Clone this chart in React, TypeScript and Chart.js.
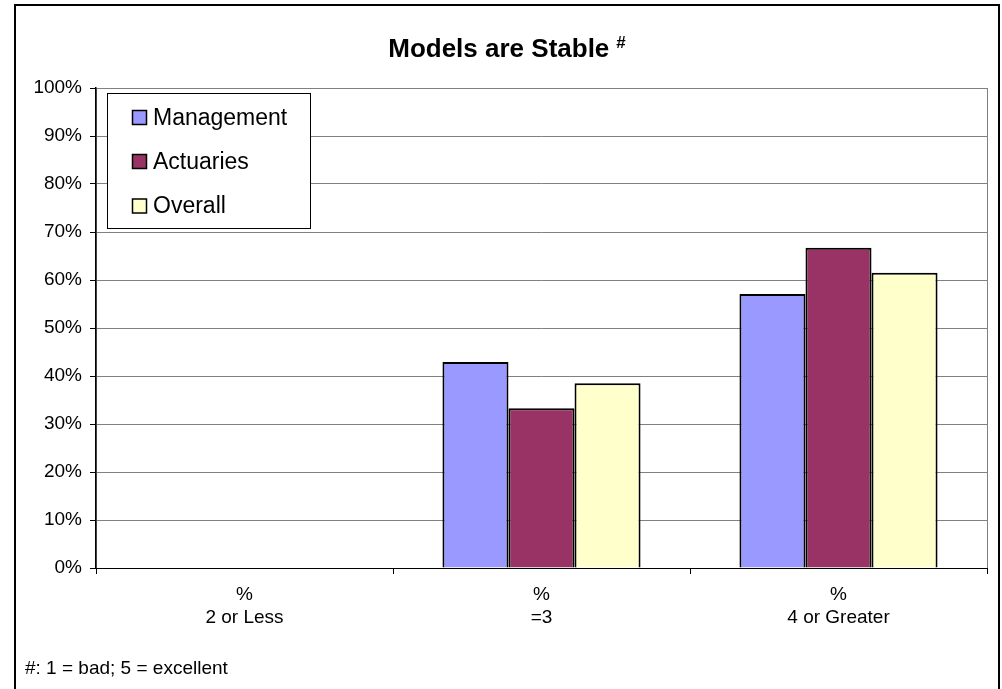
import React, { useEffect, useRef } from "react";
import { Chart, registerables } from "chart.js";

Chart.register(...registerables);

const categories: string[][] = [["%", "2 or Less"], ["%", "=3"], ["%", "4 or Greater"]];
const seriesNames = ["Management", "Actuaries", "Overall"];
const management = [0, 42.9, 57.1];
const actuaries = [0, 33.3, 66.7];
const overall = [0, 38.5, 61.5];
const seriesColors = ["#9999FF", "#993366", "#FFFFCC"];
const yTicks = [0, 10, 20, 30, 40, 50, 60, 70, 80, 90, 100];
const titleText = "Models are Stable";
const titleMark = "#";
const footnote = "#: 1 = bad; 5 = excellent";

const FONT = "Arial, 'Liberation Sans', sans-serif";

const decorPlugin = {
  id: "decor",
  beforeDraw(chart: any) {
    const { ctx, chartArea } = chart;
    ctx.save();
    ctx.fillStyle = "#fff";
    ctx.fillRect(0, 0, chart.width, chart.height);
    ctx.strokeStyle = "#808080";
    ctx.lineWidth = 1;
    ctx.strokeRect(chartArea.left + 0.5, chartArea.top + 0.5, chartArea.right - chartArea.left, chartArea.bottom - chartArea.top);
    ctx.restore();
  },
  afterDraw(chart: any) {
    const { ctx } = chart;
    ctx.save();
    // outer frame
    ctx.strokeStyle = "#000";
    ctx.lineWidth = 2;
    ctx.beginPath();
    ctx.moveTo(15, 700);
    ctx.lineTo(15, 5);
    ctx.lineTo(999, 5);
    ctx.lineTo(999, 700);
    ctx.stroke();

    // title
    ctx.fillStyle = "#000";
    ctx.textBaseline = "alphabetic";
    ctx.textAlign = "left";
    ctx.font = `bold 26px ${FONT}`;
    const tw = ctx.measureText(titleText).width;
    ctx.font = `bold 17px ${FONT}`;
    const mw = ctx.measureText(titleMark).width;
    const total = tw + 7 + mw;
    const startX = 507 - total / 2;
    ctx.font = `bold 26px ${FONT}`;
    ctx.fillText(titleText, startX, 57);
    ctx.font = `bold 17px ${FONT}`;
    ctx.fillText(titleMark, startX + tw + 7, 48);

    // legend
    const lx = 107, ly = 93, lw = 203, lh = 135;
    ctx.fillStyle = "#fff";
    ctx.fillRect(lx, ly, lw, lh);
    ctx.strokeStyle = "#000";
    ctx.lineWidth = 1;
    ctx.strokeRect(lx + 0.5, ly + 0.5, lw, lh);
    const rows = [117.5, 161.5, 206];
    chart.data.datasets.forEach((ds: any, i: number) => {
      const y = rows[i];
      ctx.fillStyle = ds.backgroundColor;
      ctx.fillRect(132, y - 7.5, 15, 15);
      ctx.strokeStyle = "#000";
      ctx.lineWidth = 1.5;
      ctx.strokeRect(132.5, y - 7, 14, 14);
      ctx.fillStyle = "#000";
      ctx.font = `23px ${FONT}`;
      ctx.textBaseline = "middle";
      ctx.fillText(ds.label, 153, y + 1);
    });

    // footnote
    ctx.font = `19px ${FONT}`;
    ctx.textBaseline = "middle";
    ctx.textAlign = "left";
    ctx.fillStyle = "#000";
    ctx.fillText(footnote, 25, 669);
    ctx.restore();
  },
};

export default function App() {
  const ref = useRef<HTMLCanvasElement | null>(null);
  useEffect(() => {
    if (!ref.current) return;
    const values = [management, actuaries, overall];
    const chart = new Chart(ref.current, {
      type: "bar",
      data: {
        labels: categories,
        datasets: seriesNames.map((name, i) => ({
          label: name,
          data: values[i],
          backgroundColor: seriesColors[i],
          borderColor: "#000",
          borderWidth: 2,
          categoryPercentage: 0.667,
          barPercentage: 1,
        })),
      },
      options: {
        animation: false,
        responsive: false,
        devicePixelRatio: 1,
        layout: { padding: { top: 88, right: 15, left: 0, bottom: 0 } },
        plugins: { legend: { display: false }, title: { display: false }, tooltip: { enabled: false } },
        scales: {
          x: {
            grid: { offset: true, drawOnChartArea: false, drawTicks: true, tickLength: 6, color: "#000", tickColor: "#000" },
            border: { color: "#000", width: 1 },
            ticks: { color: "#000", font: { family: FONT, size: 19, lineHeight: 1.22 }, padding: 9, maxRotation: 0, autoSkip: false },
            afterFit(axis: any) { axis.height = 121; },
          },
          y: {
            min: 0,
            max: 100,
            afterBuildTicks(axis: any) { axis.ticks = yTicks.map((v) => ({ value: v })); },
            grid: { color: "#808080", tickColor: "#000", tickLength: 6, lineWidth: 1 },
            border: { color: "#000", width: 1.5 },
            ticks: { color: "#000", font: { family: FONT, size: 19 }, padding: 8, callback: (v: any) => `${v}%` },
            afterFit(axis: any) { axis.width = 96; },
          },
        },
      },
      plugins: [decorPlugin],
    });
    return () => chart.destroy();
  }, []);
  return (
    <div style={{ position: "absolute", left: 0, top: 0, width: 1002, height: 689, background: "#fff" }}>
      <canvas ref={ref} width={1002} height={689} style={{ display: "block", width: 1002, height: 689 }} />
    </div>
  );
}
